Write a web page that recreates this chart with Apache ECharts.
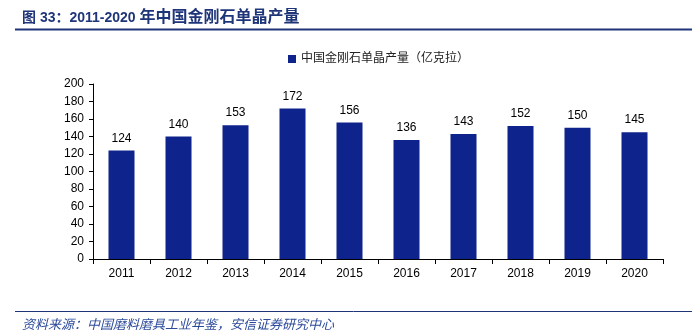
<!DOCTYPE html>
<html>
<head>
<meta charset="utf-8">
<script src="https://cdn.jsdelivr.net/npm/echarts@6/dist/echarts.min.js"></script>
<style>
  html, body { margin: 0; padding: 0; background: #fff; }
  #chart { width: 697px; height: 332px; }
</style>
</head>
<body>
<div id="chart"></div>
<script>
// 2011-2020 中国金刚石单晶产量（亿克拉）
const years = ['2011', '2012', '2013', '2014', '2015', '2016', '2017', '2018', '2019', '2020'];
const output = [124, 140, 153, 172, 156, 136, 143, 152, 150, 145];
const seriesName = '中国金刚石单晶产量（亿克拉）';

const chart = echarts.init(document.getElementById('chart'), null, { renderer: 'canvas' });
const cjk = '"Liberation Sans", "Noto Sans CJK SC", sans-serif';

chart.setOption({
  backgroundColor: '#fff',
  animation: false,
  title: [
    {
      text: '{a|图 33：2011-2020 }{b|年中国金刚石单晶产量}',
      left: 17, top: 5,
      textStyle: {
        rich: {
          a: { fontFamily: cjk, fontSize: 14, fontWeight: 'bold', color: '#1f3579' },
          b: { fontFamily: cjk, fontSize: 16, fontWeight: 'bold', color: '#1f3579' }
        }
      }
    },
    {
      text: '资料来源：中国磨料磨具工业年鉴，安信证券研究中心',
      left: 17, top: 314,
      textStyle: { fontFamily: cjk, fontSize: 13, fontWeight: 'normal', fontStyle: 'italic', color: '#2b4a9a' }
    }
  ],
  graphic: [
    { type: 'line', shape: { x1: 15, y1: 29.5, x2: 692, y2: 29.5 }, style: { stroke: '#1f3579', lineWidth: 2 } },
    { type: 'line', shape: { x1: 15, y1: 311.5, x2: 692, y2: 311.5 }, style: { stroke: '#1f3579', lineWidth: 1 } }
  ],
  legend: {
    data: [seriesName],
    left: 283, top: 48,
    itemWidth: 8, itemHeight: 8, itemGap: 4,
    icon: 'rect',
    textStyle: { fontFamily: cjk, fontSize: 12, color: '#222' }
  },
  grid: { left: 93, right: 34, top: 84, bottom: 73, containLabel: false },
  xAxis: {
    type: 'category',
    data: years,
    axisLine: { lineStyle: { color: '#000', width: 1 } },
    axisTick: { show: true, inside: false, length: 5, alignWithLabel: false, lineStyle: { color: '#000' } },
    axisLabel: { fontFamily: 'Liberation Sans', fontSize: 12, color: '#000', margin: 9 }
  },
  yAxis: {
    type: 'value',
    min: 0, max: 200, interval: 20,
    axisLine: { show: true, lineStyle: { color: '#000', width: 1 } },
    axisTick: { show: true, length: 4, lineStyle: { color: '#000' } },
    splitLine: { show: false },
    axisLabel: { fontFamily: 'Liberation Sans', fontSize: 12, color: '#000', margin: 9 }
  },
  series: [{
    name: seriesName,
    type: 'bar',
    data: output,
    barWidth: 26,
    itemStyle: { color: '#0f238c' },
    label: {
      show: true, position: 'top', distance: 6,
      fontFamily: 'Liberation Sans', fontSize: 12, color: '#000'
    }
  }]
});
</script>
</body>
</html>
